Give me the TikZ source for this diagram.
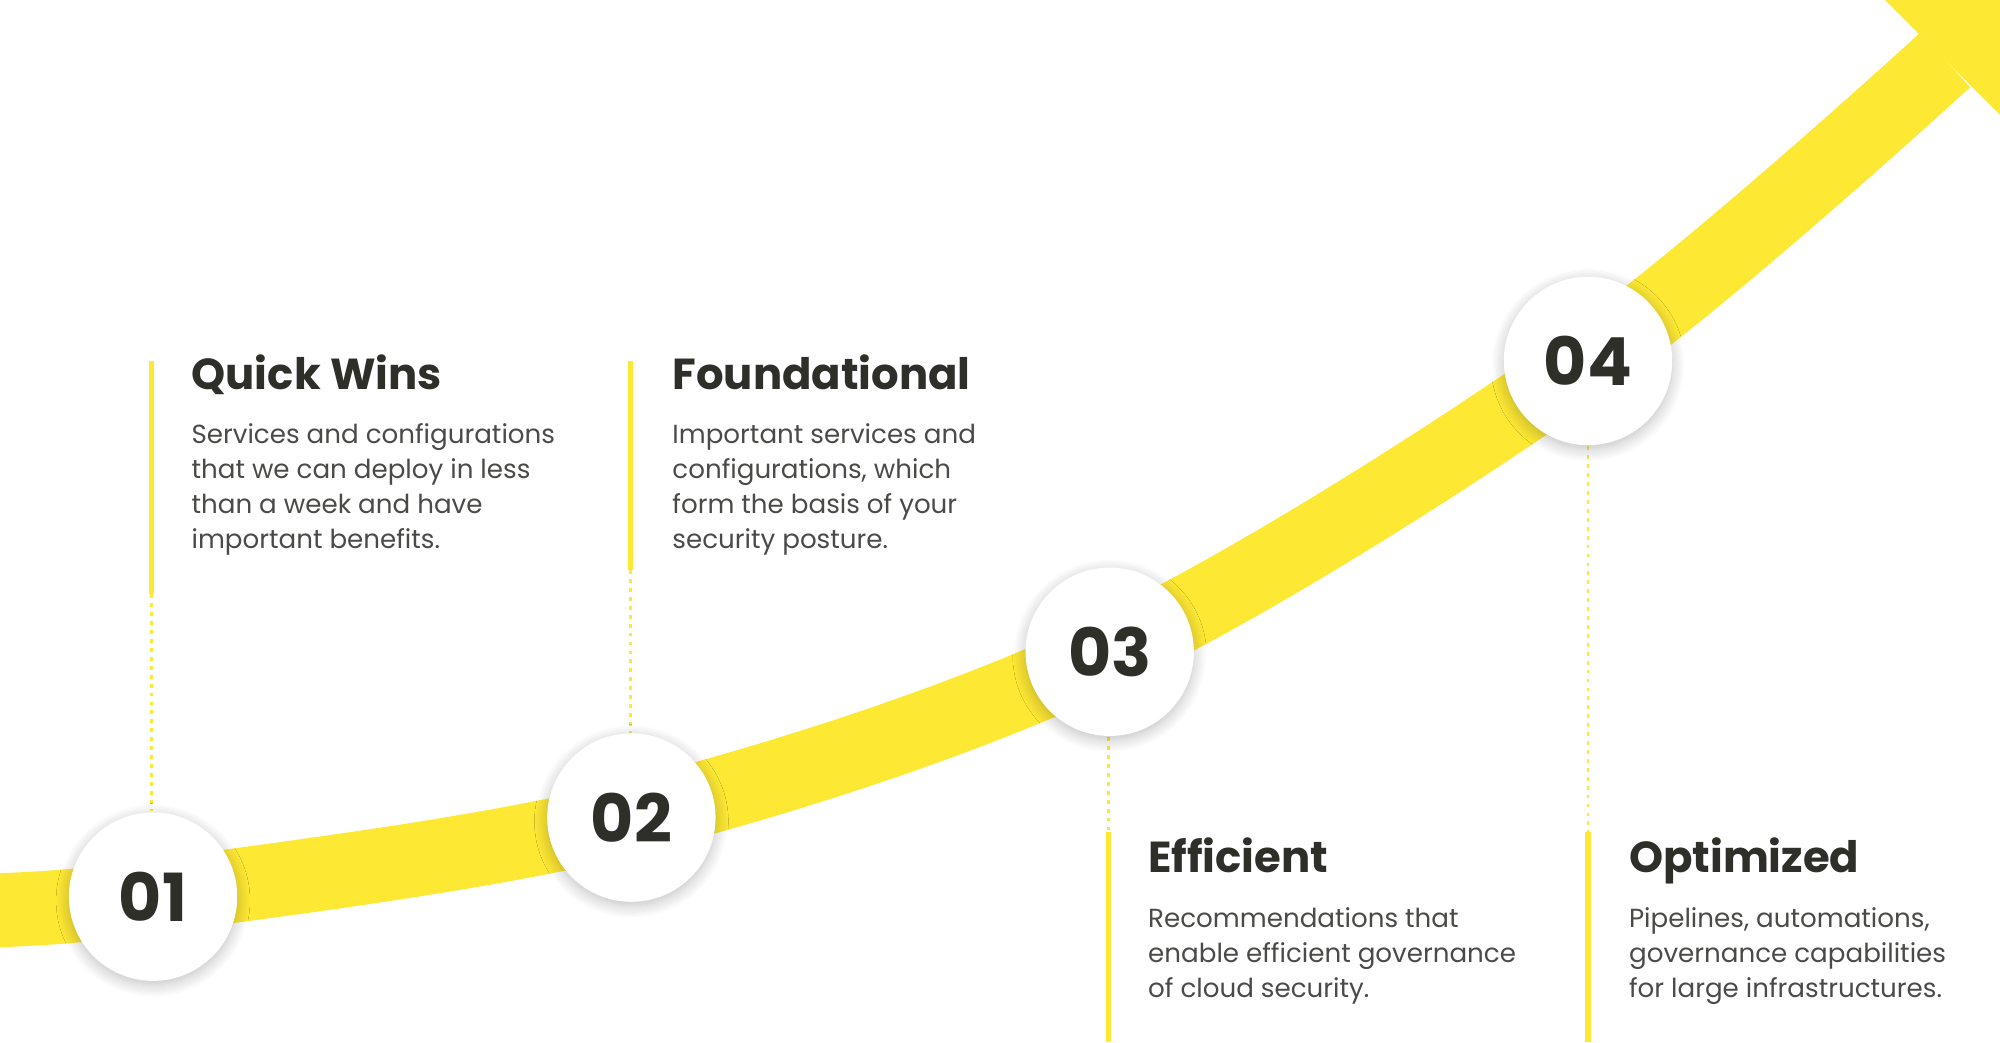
\documentclass[tikz,border=0pt]{standalone}
\usepackage{fontspec}
\setmainfont{Poppins}
\usetikzlibrary{shadows.blur}
\definecolor{yel}{HTML}{FDE834}
\definecolor{ink}{HTML}{2F2F2A}
\definecolor{body}{HTML}{4A4A48}
\begin{document}
\begin{tikzpicture}[x=1pt,y=-1pt,
  num/.style={circle,fill=white,minimum size=132pt,inner sep=0pt,font=\fontsize{52}{52}\selectfont\bfseries,text=ink,blur shadow={shadow blur steps=12,shadow xshift=0pt,shadow yshift=-3pt,shadow blur radius=10pt,shadow opacity=25}},
  ttl/.style={anchor=base west,font=\fontsize{34}{34}\selectfont\bfseries,text=ink,inner sep=0pt},
  bod/.style={anchor=north west,font=\fontsize{20.5}{27.5}\selectfont,text=body,align=left,inner sep=0pt},
  solidl/.style={yel,line width=4pt},
  dotl/.style={yel,line width=2.2pt,dash pattern=on 3pt off 4pt}]
\useasboundingbox (0,0) rectangle (1568,817);
\begin{scope}
\clip (0,0) rectangle (1568,817);
\draw[yel,line width=58pt] plot[smooth,tension=0.55] coordinates {(-20,714) (120,703) (495,641) (870,511) (1245,283) (1525,47)};
\fill[yel] (1525,47) ++(-88,-88) -- ++(220,0) -- ++(0,0) -- (1525,47) ++(88,88) -- ++(0,-220) -- cycle;
\fill[yel] (1432,-46) -- (1645,-120) -- (1618,140) -- cycle;
\end{scope}
% lines
\draw[solidl] (119,283) coordinate(a1) -- (119,466) coordinate(a2);
\draw[dotl] (a2) -- (119,636);
\draw[solidl] (494,283) coordinate(b1) -- (494,447) coordinate(b2);
\draw[dotl] (b2) -- (494,575);
\draw[dotl] (869,578) -- (869,652) coordinate(c1);
\draw[solidl] (c1) -- (869,817);
\draw[dotl] (1245,350) -- (1245,652) coordinate(d1);
\draw[solidl] (d1) -- (1245,817);
% circles
\node[num] (n1) at (120,703) {01};
\node[num] (n2) at (495,641) {02};
\node[num] (n3) at (870,511) {03};
\node[num] (n4) at (1245,283) {04};
% texts
\node[ttl] (t1) at (150,305) {Quick Wins};
\node[bod] (p1) at (150,332) {Services and configurations\\that we can deploy in less\\than a week and have\\important benefits.};
\node[ttl] (t2) at (527,305) {Foundational};
\node[bod] (p2) at (527,332) {Important services and\\configurations, which\\form the basis of your\\security posture.};
\node[ttl] (t3) at (900,684) {Efficient};
\node[bod] (p3) at (900,711) {Recommendations that\\enable efficient governance\\of cloud security.};
\node[ttl] (t4) at (1277,684) {Optimized};
\node[bod] (p4) at (1277,711) {Pipelines, automations,\\governance capabilities\\for large infrastructures.};
\end{tikzpicture}
\end{document}
